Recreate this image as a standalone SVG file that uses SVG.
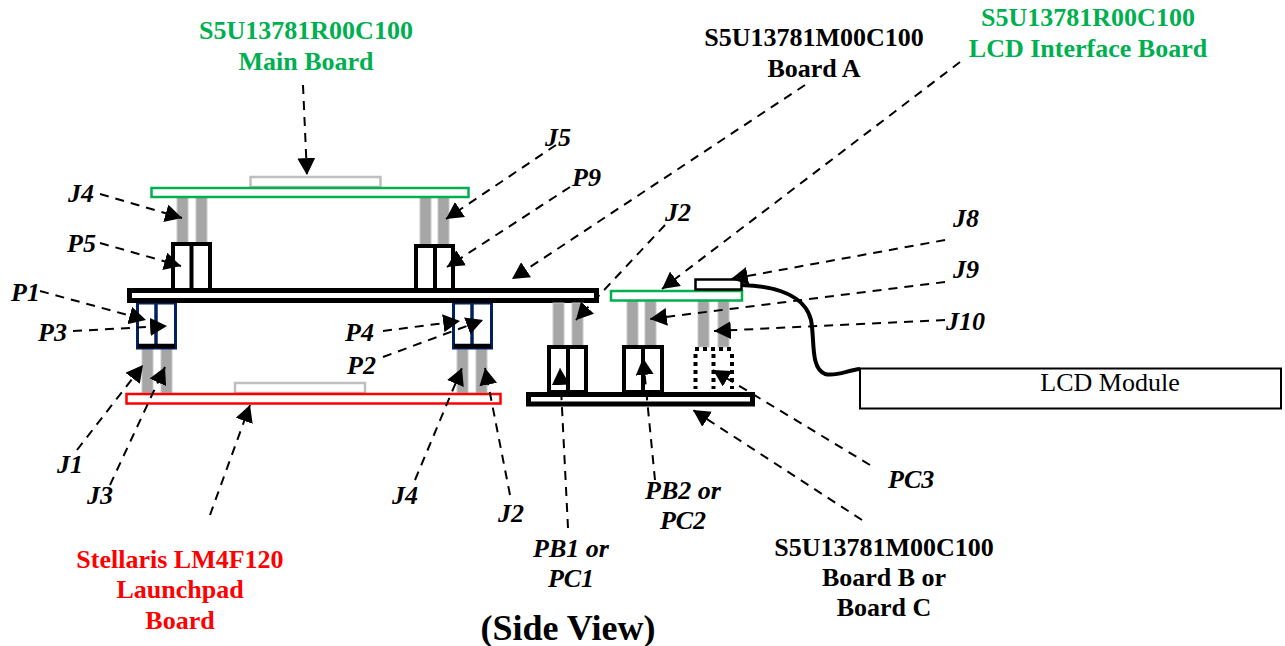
<svg xmlns="http://www.w3.org/2000/svg" width="1285" height="646" viewBox="0 0 1285 646">
<style>
text{font-family:"Liberation Serif","Times New Roman",serif;fill:#000}
.t{font-size:26px;font-weight:bold;text-anchor:middle}
.g{fill:#00b050}.r{fill:#f00}
.l{font-size:26px;font-weight:bold;font-style:italic}
.li{font-size:26px;font-weight:bold;font-style:italic;text-anchor:middle}
.pin{fill:#a6a6a6;stroke:#c8c8c8;stroke-width:1}
.bb{fill:#fff;stroke:#000;stroke-width:5}
.gb{fill:#fff;stroke:#00b050;stroke-width:2.5}
.rb{fill:#fff;stroke:#f00;stroke-width:2.5}
.sm{fill:#fff;stroke:#bfbfbf;stroke-width:2.5}
.c{fill:#fff;stroke:#000;stroke-width:4}
.cl{fill:none;stroke:#000;stroke-width:4}
.b{fill:#fff;stroke:#002060;stroke-width:3}
.bl{fill:none;stroke:#002060;stroke-width:3.5}
.d{fill:none;stroke:#000;stroke-width:4;stroke-dasharray:4 4}
.a{fill:none;stroke:#000;stroke-width:2;stroke-dasharray:9 7;marker-end:url(#ah)}
</style>
<defs>
<marker id="ah" markerUnits="userSpaceOnUse" markerWidth="18" markerHeight="18" refX="15" refY="8" orient="auto" viewBox="0 0 16 16"><path d="M0 0L15 8L0 16Z" fill="#000"/></marker>
</defs>
<g id="main-board">
<rect class="sm" x="250.500" y="177" width="130" height="10"/>
<rect class="pin" x="177" y="197" width="11" height="46"/><rect class="pin" x="196" y="197" width="11" height="46"/>
<rect class="pin" x="420" y="197" width="11" height="48"/><rect class="pin" x="438" y="197" width="11" height="48"/>
<rect class="gb" x="151.500" y="188" width="317" height="9"/>
</g>
<g id="launchpad-board">
<rect class="pin" x="142" y="349" width="11" height="44"/><rect class="pin" x="161" y="349" width="11" height="44"/>
<rect class="pin" x="457" y="349" width="11" height="44"/><rect class="pin" x="476" y="349" width="11" height="44"/>
<rect class="sm" x="235" y="383" width="130" height="10"/>
<rect class="rb" x="126.500" y="394" width="374" height="9.500"/>
</g>
<g id="P5-connector"><rect class="c" x="173" y="244" width="37" height="46"/><path class="cl" d="M191.500 244V290"/></g>
<g id="P9-connector"><rect class="c" x="416" y="246" width="37" height="44"/><path class="cl" d="M435 246V290"/></g>
<g id="P1-P3-connector"><rect class="b" x="137.500" y="303" width="38" height="45"/><path class="bl" d="M156 303V345"/><path d="M138 346H175" stroke="#000" stroke-width="4.500" fill="none"/></g>
<g id="P2-P4-connector"><rect class="b" x="453.500" y="303" width="38" height="45"/><path class="bl" d="M472 303V345"/><path d="M454 346H491" stroke="#000" stroke-width="4.500" fill="none"/></g>
<g id="board-a"><rect class="bb" x="129.500" y="290.500" width="467" height="10"/></g>
<g id="board-a-pins">
<rect class="pin" x="553" y="303" width="11" height="43"/><rect class="pin" x="572" y="303" width="11" height="43"/>
</g>
<g id="lcd-interface-board">
<rect class="pin" x="627" y="301" width="11" height="45"/><rect class="pin" x="645" y="301" width="11" height="45"/>
<rect class="pin" x="698" y="301" width="11" height="46"/><rect class="pin" x="718" y="301" width="11" height="46"/>
<rect class="gb" x="611" y="291" width="131" height="9.500"/>
<rect x="695.500" y="279.500" width="46" height="10" fill="#fff" stroke="#000" stroke-width="2.500"/>
<path d="M741 285C775 286 805 295 811 320C815 340 810 368 825 374C836 377 848 370 860 369" fill="none" stroke="#000" stroke-width="4"/>
</g>
<g id="board-b-c">
<rect class="c" x="549" y="347" width="37" height="45"/><path class="cl" d="M568 347V392"/>
<rect class="c" x="624" y="347" width="38" height="45"/><path class="cl" d="M643 347V392"/>
<path class="d" d="M695 349H733M695.500 354V389M713.500 354V389M732 354V389"/>
<rect class="bb" x="528.500" y="394.500" width="224" height="9.500"/>
</g>
<g id="lcd-module"><rect x="860" y="368.500" width="421" height="40" fill="#fff" stroke="#000" stroke-width="2"/>
<text x="1110" y="391" font-size="26" text-anchor="middle">LCD Module</text></g>
<g id="connectors">
<path class="a" d="M303 85L307 175"/>
<path class="a" d="M805 85L512 279"/>
<path class="a" d="M960 62L662 289"/>
<path class="a" d="M556 145L446 219"/>
<path class="a" d="M570 187L447 267"/>
<path class="a" d="M665 225L576 320"/>
<path class="a" d="M945 240L731 279"/>
<path class="a" d="M945 282L650 319"/>
<path class="a" d="M945 320L714 331"/>
<path class="a" d="M870 465L713 370"/>
<path class="a" d="M862 520L693 410"/>
<path class="a" d="M655 480L643 358"/>
<path class="a" d="M568 528L560 368"/>
<path class="a" d="M510 495L485 368"/>
<path class="a" d="M415 480L462 368"/>
<path class="a" d="M77 450L143 365"/>
<path class="a" d="M110 485L165 367"/>
<path class="a" d="M210 515L250 405"/>
<path class="a" d="M100 194L182 218"/>
<path class="a" d="M100 243L181 266"/>
<path class="a" d="M40 291L146 320"/>
<path class="a" d="M73 331L167 326"/>
<path class="a" d="M383 331L460 321"/>
<path class="a" d="M383 357L483 320"/>
</g>
<g id="labels">
<text class="t g" x="306" y="39">S5U13781R00C100</text><text class="t g" x="306" y="70">Main Board</text>
<text class="t" x="814" y="46">S5U13781M00C100</text><text class="t" x="814" y="77">Board A</text>
<text class="t g" x="1088" y="26">S5U13781R00C100</text><text class="t g" x="1088" y="57">LCD Interface Board</text>
<text class="l" x="68" y="202">J4</text><text class="l" x="67" y="252">P5</text>
<text class="l" x="11" y="301">P1</text><text class="l" x="38" y="341">P3</text>
<text class="l" x="545" y="146">J5</text><text class="l" x="572" y="186">P9</text>
<text class="l" x="665" y="221">J2</text><text class="l" x="953" y="227">J8</text>
<text class="l" x="953" y="278">J9</text><text class="l" x="946" y="330">J10</text>
<text class="l" x="345" y="341">P4</text><text class="l" x="347" y="374">P2</text>
<text class="l" x="57" y="473">J1</text><text class="l" x="87" y="504">J3</text>
<text class="l" x="392" y="504">J4</text><text class="l" x="498" y="522">J2</text>
<text class="li" x="571" y="557">PB1 or</text><text class="li" x="571" y="587">PC1</text>
<text class="li" x="683" y="499">PB2 or</text><text class="li" x="683" y="529">PC2</text>
<text class="l" x="888" y="488">PC3</text>
<text class="t" x="884" y="556">S5U13781M00C100</text><text class="t" x="884" y="586">Board B or</text><text class="t" x="884" y="616">Board C</text>
<text class="t r" x="180" y="568">Stellaris LM4F120</text><text class="t r" x="180" y="598">Launchpad</text><text class="t r" x="180" y="629">Board</text>
<text class="t" x="568" y="640" style="font-size:36px">(Side View)</text>
</g>
</svg>
